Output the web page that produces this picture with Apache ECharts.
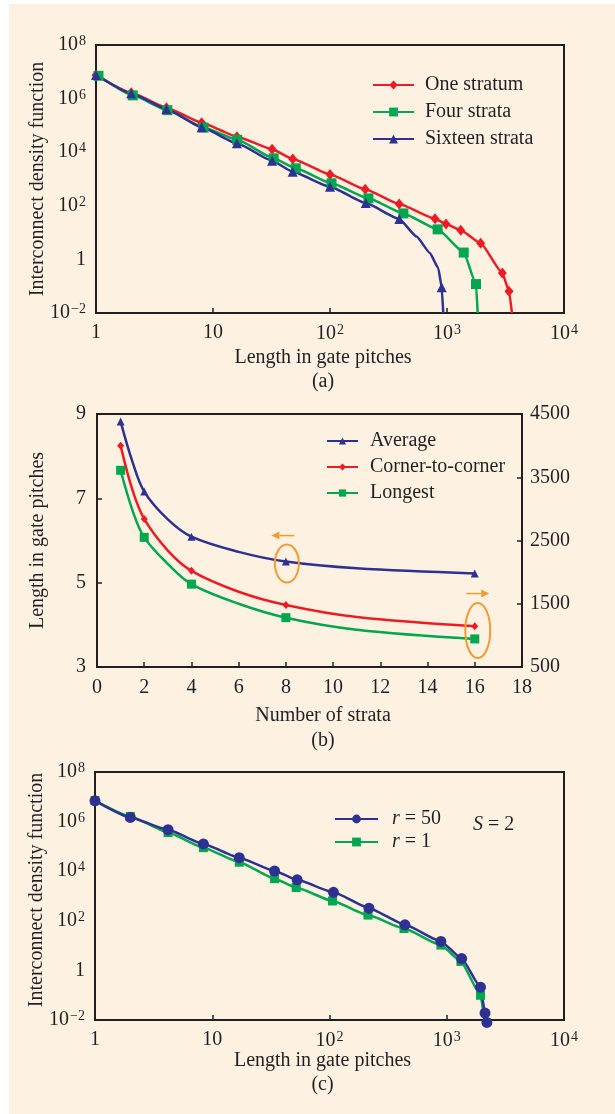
<!DOCTYPE html>
<html>
<head>
<meta charset="utf-8">
<script src="https://cdn.jsdelivr.net/npm/echarts@6/dist/echarts.min.js"></script>
<style>
html,body{margin:0;padding:0;background:#ffffff;}
#bg{position:absolute;left:9px;top:4px;right:0;bottom:0;background:#fdf2e2;}
#chart{position:absolute;left:0;top:0;width:615px;height:1114px;}
</style>
</head>
<body>
<div id="bg"></div>
<div id="chart"></div>
<script>
// ---------- Panel (a): interconnect density vs length, by number of strata ----------
const aOneX = [1, 2, 4, 8, 16, 32, 48, 100, 200, 390, 790, 980, 1310, 1940, 2970, 3390];
const aOneY = [7.6e6, 1.66e6, 4.6e5, 1.26e5, 3.8e4, 1.29e4, 5.6e3, 1.48e3, 417, 117, 33, 21, 12.3, 4.0, 0.31, 0.065];
const aOneBendX = [3590];
const aOneBendY = [0.01];

const aFourX = [1.05, 2.06, 4.07, 8.3, 16.1, 33, 51, 103, 213, 424, 832, 1390, 1770];
const aFourY = [7.1e6, 1.32e6, 3.7e5, 8.3e4, 2.9e4, 5.9e3, 2.5e3, 690, 190, 52, 13.2, 1.8, 0.12];
const aFourBendX = [1830];
const aFourBendY = [0.01];

const aSixteenX = [1, 2, 4, 8, 16, 32, 48, 100, 202, 391, 901];
const aSixteenY = [7.6e6, 1.58e6, 4.1e5, 8.5e4, 2.14e4, 4.8e3, 1.86e3, 513, 126, 32, 0.091];
const aSixteenBendX = [550, 716, 843, 929];
const aSixteenBendY = [7.1, 1.7, 0.47, 0.01];

const aLegend = ['One stratum', 'Four strata', 'Sixteen strata'];

// ---------- Panel (b): lengths vs number of strata ----------
const bStrata = [1, 2, 4, 8, 16];
const bAverage = [8.82, 7.16, 6.09, 5.50, 5.22];        // left axis
const bCorner = [4000, 2840, 2020, 1480, 1145];         // right axis
const bLongest = [3610, 2550, 1810, 1280, 944];         // right axis
// points read along the drawn curves between the markers
const bCurveX = [1.5, 3, 6, 11];
const bAverageCurve = [7.87, 6.50, 5.73, 5.34];
const bCornerCurve = [3300, 2340, 1690, 1290];
const bLongestCurve = [2980, 2130, 1500, 1090];
const bLeftTicks = [3, 5, 7, 9];
const bRightTicks = [500, 1500, 2500, 3500, 4500];
const bLegend = ['Average', 'Corner-to-corner', 'Longest'];

// ---------- Panel (c): r = 50 vs r = 1, S = 2 ----------
const cR50X = [1, 2, 4.2, 8.4, 17, 34, 53, 108, 217, 440, 891, 1340, 1940, 2120, 2200];
const cR50Y = [6.9e6, 1.48e6, 4.7e5, 1.26e5, 3.5e4, 1.02e4, 4.5e3, 1.41e3, 324, 69, 14.8, 3.0, 0.21, 0.019, 0.008];
const cR1X = [1, 2, 4.2, 8.4, 17, 34, 52, 106, 213, 432, 891, 1320, 1940];
const cR1Y = [7.1e6, 1.62e6, 3.6e5, 8.9e4, 2.3e4, 5.0e3, 2.2e3, 630, 170, 49, 10.5, 2.3, 0.1];
const cR1BendX = [2100];
const cR1BendY = [0.01];
const cLegend = ['r = 50', 'r = 1'];

// ---------- styling ----------
const FONT = 'Liberation Serif';
const INK = '#231f20';
const RED = '#ed1c24', GREEN = '#00a650', BLUE = '#2e3192', ORANGE = '#f39a32';

function pts(xs, ys, bx, by) {
  const out = xs.map((x, i) => ({ value: [x, ys[i]] }));
  (bx || []).forEach((x, i) => out.push({ value: [x, by[i]], symbol: 'none' }));
  out.sort((p, q) => p.value[0] - q.value[0]);
  return out;
}

function powLabel(v) {
  const e = Math.round(Math.log10(v));
  if (e === 0) return '1';
  if (e === 1) return '10';
  return '10{sup|' + (e < 0 ? '\u2212' + (-e) : e) + '}';
}
const supRich = { sup: { fontSize: 14, fontFamily: FONT, color: INK, verticalAlign: 'top', padding: [0, 0, 7, 1] } };
const labelBase = { color: INK, fontFamily: FONT, fontSize: 20 };
const axisLine = { show: true, onZero: false, lineStyle: { color: INK, width: 2 } };
const nameStyle = { color: INK, fontFamily: FONT, fontSize: 20 };

function logX(grid, name, gap, pad) {
  return {
    type: 'log', logBase: 10, gridIndex: grid, min: 1, max: 10000,
    axisLine, splitLine: { show: false },
    axisTick: { show: true, inside: true, length: 5, lineStyle: { color: INK, width: 1.5 } },
    axisLabel: Object.assign({}, labelBase, { margin: 10, formatter: powLabel, rich: supRich }),
    name, nameLocation: 'middle', nameGap: gap, nameMoveOverlap: false,
    nameTextStyle: Object.assign({}, nameStyle, { lineHeight: 24, padding: pad })
  };
}
function logY(grid, name, gap, pad) {
  return {
    type: 'log', logBase: 100, gridIndex: grid, min: 0.01, max: 1e8,
    axisLine, splitLine: { show: false }, axisTick: { show: false },
    axisLabel: Object.assign({}, labelBase, { margin: 10, formatter: powLabel, rich: supRich }),
    name, nameLocation: 'middle', nameGap: gap, nameMoveOverlap: false,
    nameTextStyle: Object.assign({}, nameStyle, { padding: pad || 0 })
  };
}
function lineSeries(name, data, color, symbol, size, xi, yi, extra) {
  return Object.assign({
    type: 'line', name, data, xAxisIndex: xi, yAxisIndex: yi,
    symbol, symbolSize: size, showSymbol: true,
    smooth: 0.15, smoothMonotone: 'x',
    lineStyle: { color, width: 2.5 }, itemStyle: { color },
    emphasis: { disabled: true }, animation: false
  }, extra || {});
}

function annot(dir, rx, ry, ox, oy, ax, ay) {
  return function (params, api) {
    const p = api.coord([api.value(0), api.value(1)]);
    const cx = p[0] + ox, cy = p[1] + oy;
    const mx = p[0] + ax, my = p[1] + ay;
    const half = 11.5, head = 8;
    const tip = mx + dir * half, tail = mx - dir * half;
    return {
      type: 'group', children: [
        { type: 'ellipse', shape: { cx, cy, rx, ry }, style: { fill: 'none', stroke: ORANGE, lineWidth: 2 } },
        { type: 'line', shape: { x1: tail, y1: my, x2: tip - dir * head, y2: my }, style: { stroke: ORANGE, lineWidth: 1.5 } },
        { type: 'polygon', shape: { points: [[tip, my], [tip - dir * head, my - 4], [tip - dir * head, my + 4]] }, style: { fill: ORANGE } }
      ]
    };
  };
}

const chart = echarts.init(document.getElementById('chart'), null, { renderer: 'canvas' });
const gridStyle = { show: true, borderColor: INK, borderWidth: 2, backgroundColor: 'transparent' };
const bSmooth = { smooth: 0.35, smoothMonotone: null };

const option = {
  animation: false,
  backgroundColor: 'transparent',
  textStyle: { fontFamily: FONT },
  grid: [
    Object.assign({ left: 96, top: 45, width: 468, height: 268 }, gridStyle),
    Object.assign({ left: 97, top: 414, width: 425, height: 253 }, gridStyle),
    Object.assign({ left: 95, top: 772, width: 469, height: 248 }, gridStyle)
  ],
  xAxis: [
    logX(0, 'Length in gate pitches\n(a)', 33, [0, 14, 0, 0]),
    {
      type: 'value', gridIndex: 1, min: 0, max: 18, interval: 2,
      axisLine, splitLine: { show: false },
      axisTick: { show: true, inside: true, length: 5, lineStyle: { color: INK, width: 1.5 } },
      axisLabel: Object.assign({}, labelBase, { margin: 11 }),
      name: 'Number of strata\n(b)', nameLocation: 'middle', nameGap: 36, nameMoveOverlap: false,
      nameTextStyle: Object.assign({}, nameStyle, { lineHeight: 25, padding: [0, 0, 0, 27] })
    },
    logX(2, 'Length in gate pitches\n(c)', 29, [0, 14, 0, 0])
  ],
  yAxis: [
    logY(0, 'Interconnect density function', 48),
    {
      type: 'value', gridIndex: 1, min: 3, max: 9,
      axisLine, splitLine: { show: false },
      axisTick: { show: true, inside: true, length: 5, customValues: bLeftTicks, lineStyle: { color: INK, width: 1.5 } },
      axisLabel: Object.assign({}, labelBase, { margin: 11, customValues: bLeftTicks }),
      name: 'Length in gate pitches', nameLocation: 'middle', nameGap: 49, nameMoveOverlap: false, nameTextStyle: nameStyle
    },
    {
      type: 'value', gridIndex: 1, position: 'right', min: 500, max: 4500,
      axisLine, splitLine: { show: false },
      axisTick: { show: true, inside: true, length: 5, customValues: bRightTicks, lineStyle: { color: INK, width: 1.5 } },
      axisLabel: Object.assign({}, labelBase, { margin: 8, customValues: bRightTicks, formatter: v => String(v) })
    },
    logY(2, 'Interconnect density function', 48, [0, 0, 0, 12])
  ],
  legend: [
    {
      data: aLegend, orient: 'vertical', left: 367, top: 70,
      itemWidth: 41, itemHeight: 11, itemGap: 7,
      textStyle: Object.assign({}, labelBase, { lineHeight: 20, padding: [0, 0, 0, 6] }),
      selectedMode: false
    },
    {
      data: bLegend, orient: 'vertical', left: 321, top: 426,
      itemWidth: 31, itemHeight: 9, itemGap: 6,
      textStyle: Object.assign({}, labelBase, { lineHeight: 20, padding: [0, 0, 0, 7] }),
      selectedMode: false
    },
    {
      data: cLegend, orient: 'vertical', left: 329, top: 804,
      itemWidth: 43, itemHeight: 11, itemGap: 3,
      formatter: n => n.replace(/^r/, '{i|r}'),
      textStyle: Object.assign({}, labelBase, { lineHeight: 20, padding: [0, 0, 0, 9],
        rich: { i: { fontFamily: FONT, fontSize: 20, fontStyle: 'italic', color: INK } } }),
      selectedMode: false
    }
  ],
  title: [{
    text: '{i|S} = 2', left: 468, top: 810,
    textStyle: Object.assign({}, labelBase, { fontWeight: 'normal',
      rich: { i: { fontFamily: FONT, fontSize: 20, fontStyle: 'italic', color: INK } } })
  }],
  series: [
    lineSeries('One stratum', pts(aOneX, aOneY, aOneBendX, aOneBendY), RED, 'diamond', [9, 11], 0, 0),
    lineSeries('Four strata', pts(aFourX, aFourY, aFourBendX, aFourBendY), GREEN, 'rect', 10, 0, 0),
    lineSeries('Sixteen strata', pts(aSixteenX, aSixteenY, aSixteenBendX, aSixteenBendY), BLUE, 'triangle', 10, 0, 0),

    lineSeries('Average', pts(bStrata, bAverage, bCurveX, bAverageCurve), BLUE, 'triangle', 8, 1, 1, bSmooth),
    lineSeries('Corner-to-corner', pts(bStrata, bCorner, bCurveX, bCornerCurve), RED, 'diamond', [7, 8], 1, 2, bSmooth),
    lineSeries('Longest', pts(bStrata, bLongest, bCurveX, bLongestCurve), GREEN, 'rect', 9, 1, 2, bSmooth),
    {
      type: 'custom', xAxisIndex: 1, yAxisIndex: 1, silent: true, z: 5,
      data: [[bStrata[3], bAverage[3]]],
      renderItem: annot(-1, 12, 19, 1, 2, -3, -26)
    },
    {
      type: 'custom', xAxisIndex: 1, yAxisIndex: 2, silent: true, z: 5,
      data: [[bStrata[4], (bCorner[4] + bLongest[4]) / 2]],
      renderItem: annot(1, 12.5, 27.5, 3, -2, 3, -39)
    },

    lineSeries('r = 1', pts(cR1X, cR1Y, cR1BendX, cR1BendY), GREEN, 'rect', 9, 2, 3),
    lineSeries('r = 50', pts(cR50X, cR50Y), BLUE, 'circle', 11, 2, 3, { clip: false })
  ]
};
chart.setOption(option);
</script>
</body>
</html>
